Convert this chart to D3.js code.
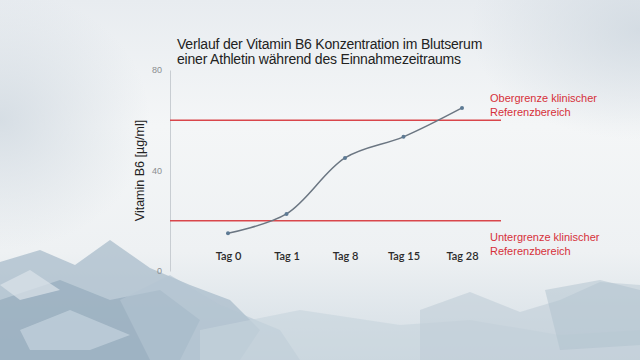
<!DOCTYPE html>
<html>
<head>
<meta charset="utf-8">
<script src="https://cdn.jsdelivr.net/npm/d3@7"></script>
<style>
  body { margin: 0; background: #f1f3f5; }
  svg { display: block; }
</style>
</head>
<body>
<div id="chart"></div>
<script>
(function() {
	var width = 640, height = 360;

	// data
	var days = ["Tag 0", "Tag 1", "Tag 8", "Tag 15", "Tag 28"];
	var b6 = [15, 22.7, 45, 53.4, 64.9];
	var yTicks = [0, 40, 80];
	var limits = [60, 20];
	var limitLabels = [
		["Obergrenze klinischer", "Referenzbereich"],
		["Untergrenze klinischer", "Referenzbereich"]
	];
	var titleLines = [
		"Verlauf der Vitamin B6 Konzentration im Blutserum",
		"einer Athletin während des Einnahmezeitraums"
	];

	var svg = d3.select("#chart")
		.append("svg")
		.attr("width", width)
		.attr("height", height);

	// --- background (slide picture, only decoration) ---
	var defs = svg.append("defs");
	var bg = defs.append("linearGradient").attr("id", "bg")
		.attr("x1", 0).attr("y1", 0).attr("x2", 0).attr("y2", 1);
	bg.append("stop").attr("offset", "0%").attr("stop-color", "#e8ecf0");
	bg.append("stop").attr("offset", "35%").attr("stop-color", "#f4f6f7");
	bg.append("stop").attr("offset", "70%").attr("stop-color", "#eef1f3");
	bg.append("stop").attr("offset", "100%").attr("stop-color", "#d3dde4");

	var side = defs.append("radialGradient").attr("id", "cloud");
	side.append("stop").attr("offset", "0%").attr("stop-color", "#cfd8e0").attr("stop-opacity", 0.8);
	side.append("stop").attr("offset", "100%").attr("stop-color", "#cfd8e0").attr("stop-opacity", 0);

	svg.append("rect").attr("width", width).attr("height", height).attr("fill", "url(#bg)");
	svg.append("ellipse").attr("cx", 0).attr("cy", 120).attr("rx", 150).attr("ry", 130).attr("fill", "url(#cloud)");
	svg.append("ellipse").attr("cx", 640).attr("cy", 30).attr("rx", 170).attr("ry", 110).attr("fill", "url(#cloud)");

	var ice = [
		{ pts: "0,262 40,250 75,265 110,240 150,268 190,285 230,300 260,330 240,360 0,360", c: "#a9bccb", o: 0.75 },
		{ pts: "0,300 60,280 110,300 160,290 200,320 180,360 0,360", c: "#8fa6b9", o: 0.6 },
		{ pts: "20,330 70,310 130,335 90,350 30,350", c: "#c5d3de", o: 0.7 },
		{ pts: "120,300 170,275 220,305 280,330 300,360 150,360", c: "#b4c5d2", o: 0.6 },
		{ pts: "200,330 300,310 400,325 470,320 560,335 640,330 640,360 200,360", c: "#c6d3dc", o: 0.6 },
		{ pts: "420,310 470,292 520,312 560,300 600,282 640,285 640,360 420,360", c: "#bfcdd7", o: 0.6 },
		{ pts: "545,290 600,280 640,290 640,345 560,350", c: "#b0c1ce", o: 0.5 },
		{ pts: "0,285 30,270 60,290 20,300", c: "#dbe3ea", o: 0.7 }
	];
	svg.append("g").selectAll("polygon")
		.data(ice)
		.enter().append("polygon")
		.attr("points", function(d) { return d.pts; })
		.attr("fill", function(d) { return d.c; })
		.attr("opacity", function(d) { return d.o; });

	// --- chart ---
	var x = d3.scalePoint().domain(days).range([228, 462]);
	var y = d3.scaleLinear().domain([0, 80]).range([271, 70]);

	// y axis
	var yAxis = svg.append("g")
		.attr("transform", "translate(170,0)")
		.call(d3.axisLeft(y).tickValues(yTicks).tickSize(0).tickPadding(8));
	yAxis.select(".domain").attr("stroke", "#c8cdd2").attr("stroke-width", 1);
	yAxis.selectAll("text")
		.attr("fill", "#8a8d90")
		.style("font-family", "Liberation Sans, Arial, sans-serif")
		.style("font-size", "9px");

	svg.append("text")
		.attr("transform", "translate(144," + y(40) + ") rotate(-90)")
		.attr("text-anchor", "middle")
		.attr("fill", "#222")
		.style("font-family", "Liberation Sans, Arial, sans-serif")
		.style("font-size", "12.5px")
		.text("Vitamin B6 [µg/ml]");

	// x axis labels
	var xAxis = svg.append("g")
		.attr("transform", "translate(0,252)")
		.call(d3.axisBottom(x).tickSize(0).tickPadding(0));
	xAxis.select(".domain").remove();
	xAxis.selectAll("text")
		.attr("fill", "#2b2b2b")
		.style("font-family", "Lato, Open Sans, sans-serif")
		.style("font-weight", "600")
		.style("font-size", "11px");

	// reference limits
	svg.selectAll(".limit")
		.data(limits)
		.enter().append("line")
		.attr("class", "limit")
		.attr("x1", 170).attr("x2", 501)
		.attr("y1", function(d) { return y(d); })
		.attr("y2", function(d) { return y(d); })
		.attr("stroke", "#d9464b")
		.attr("stroke-width", 1.4);

	var labelY = [98, 237];
	svg.selectAll(".limitLabel")
		.data(limitLabels)
		.enter().append("text")
		.attr("class", "limitLabel")
		.attr("x", 490)
		.attr("y", function(d, i) { return labelY[i]; })
		.attr("fill", "#d6303a")
		.style("font-family", "Liberation Sans, Arial, sans-serif")
		.style("font-size", "11px")
		.selectAll("tspan")
		.data(function(d) { return d; })
		.enter().append("tspan")
		.attr("x", 490)
		.attr("dy", function(d, i) { return i === 0 ? "0.35em" : "14px"; })
		.text(function(d) { return d; });

	// series
	var line = d3.line()
		.x(function(d, i) { return x(days[i]); })
		.y(function(d) { return y(d); })
		.curve(d3.curveCatmullRom);

	svg.append("path")
		.datum(b6)
		.attr("d", line)
		.attr("fill", "none")
		.attr("stroke", "#6b7682")
		.attr("stroke-width", 1.5);

	svg.selectAll(".pt")
		.data(b6)
		.enter().append("circle")
		.attr("class", "pt")
		.attr("cx", function(d, i) { return x(days[i]); })
		.attr("cy", function(d) { return y(d); })
		.attr("r", 2)
		.attr("fill", "#5d7a94");

	// title
	svg.append("text")
		.attr("x", 177)
		.attr("y", 49)
		.attr("fill", "#222")
		.style("font-family", "Liberation Sans, Arial, sans-serif")
		.style("font-size", "14px")
		.style("letter-spacing", "-0.2px")
		.selectAll("tspan")
		.data(titleLines)
		.enter().append("tspan")
		.attr("x", 177)
		.attr("dy", function(d, i) { return i === 0 ? 0 : 15; })
		.text(function(d) { return d; });
})();
</script>
</body>
</html>
